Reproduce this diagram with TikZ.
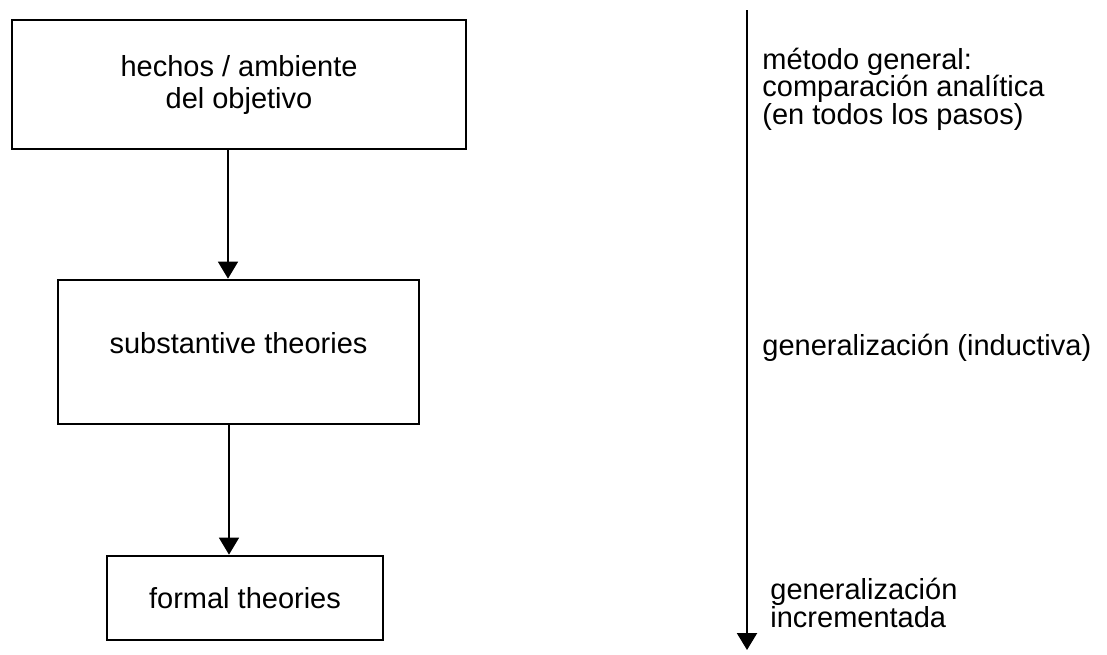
\documentclass[tikz,border=0pt]{standalone}
\usepackage{fontspec}
\setmainfont{Liberation Sans}
\usetikzlibrary{arrows.meta}

\begin{document}
\begin{tikzpicture}[
    x=0.5pt, y=-0.5pt,
    > = {Triangle[width=10pt,length=8.5pt]}, % arrow head style
    box/.style={draw, line width=1.35pt, inner sep=0pt, align=center,
        font=\fontsize{14.5}{16}\selectfont},
    side/.style={anchor=west, align=left, inner sep=0pt,
        font=\fontsize{14.5}{13.75}\selectfont},
    flow/.style={->, line width=0.65pt},
]
\useasboundingbox (0,0) rectangle (1107,654);

% the three levels
\node[box, minimum width=227pt, minimum height=64.5pt] (a) at (239,84.5)
    {hechos / ambiente\\del objetivo};
\node[box, minimum width=180.5pt, minimum height=72pt, text depth=9pt] (b) at (238.5,352)
    {substantive theories};
\node[box, minimum width=138pt, minimum height=42pt] (c) at (245,598)
    {formal theories};

\draw[flow] ([xshift=-5.5pt]a.south) -- ([xshift=-5.5pt]a.south |- b.north);
\draw[flow] ([xshift=-4.75pt]b.south) -- ([xshift=-4.75pt]b.south |- c.north);

% method axis
\coordinate (top) at (747,10);
\coordinate (bottom) at (747,650);
\draw[->, line width=1.1pt] (top) -- (bottom);

\node[side] (m) at (762,89) {método general:\\comparación analítica\\(en todos los pasos)};
\node[side] (g) at (762,348) {generalización (inductiva)};
\node[side] (gi) at (770,603) {generalización\\incrementada};
\end{tikzpicture}
\end{document}
